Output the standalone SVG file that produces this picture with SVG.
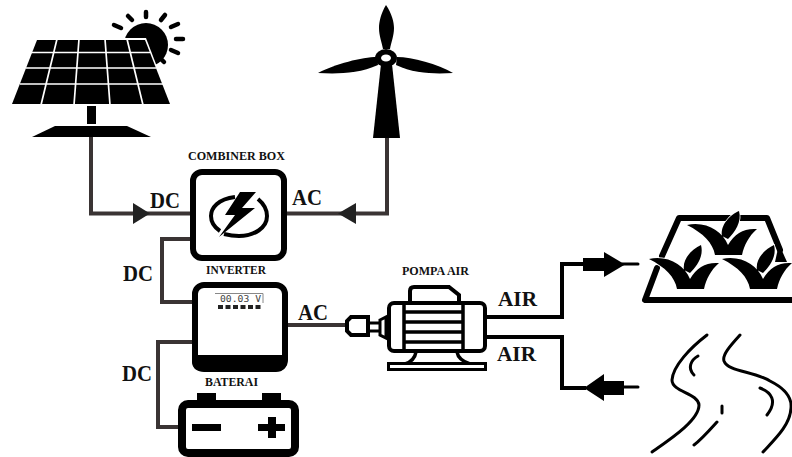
<svg xmlns="http://www.w3.org/2000/svg" width="792" height="457" viewBox="0 0 792 457">
<style>
.t{font-family:"Liberation Serif",serif;font-weight:bold;fill:#111}
.s{font-size:12px}.b{font-size:23px}
.w{stroke:#3a3434;stroke-width:4;fill:none;stroke-linejoin:miter}
.k{stroke:#000;fill:none}
.wl{stroke:#fff;fill:none;stroke-width:1.700}
</style>
<defs>
<path id="plant" d="M649 259C668 255 684 265 690 279C697 267 706 262 719 263C711 270 706 279 704 289H677C675 277 665 267 649 259ZM701 245C704 256 697 266 690 273L684 270C682 259 692 249 701 245Z" fill="#000" stroke="#fff" stroke-width="1.500" paint-order="stroke"/>
</defs>
<rect width="792" height="457" fill="#fff"/>
<g id="connectors">
<path class="w" d="M91 136V213.500H190"/>
<path d="M133 203L150 213.500L133 224Z" fill="#222"/>
<path class="w" d="M387 136V213.500H287"/>
<path d="M356 203L338 213.500L356 224Z" fill="#222"/>
<path class="w" d="M190 239H162V302H192"/>
<path class="w" d="M192 342H158V427H178"/>
<path class="w" d="M287 325H346"/>
<path class="k" stroke-width="4" d="M487 317H562V264H585"/>
<path class="k" stroke-width="4" d="M487 337H562V388H586"/>
<path d="M583 258H604V252L625 264.500L604 277V271H583Z" fill="#000"/>
<path class="k" stroke-width="3" stroke-linecap="round" d="M622 264H638"/>
<path d="M584 388L604 374V381H624V395H604V401Z" fill="#000"/>
<path class="k" stroke-width="3" stroke-linecap="round" d="M622 387H638"/>
</g>
<g id="solar">
<circle cx="146" cy="45" r="22" fill="#000"/>
<g stroke="#000" stroke-width="4.500" stroke-linecap="round"><path d="M146 12V17M128 16L132 20M114 25L121 28M165 15L161 20M178 24L171 27M176 39H183M171 50L178 53M160 58L164 62"/></g>
<path d="M35 38H146L172 106H10Z" fill="#fff"/>
<path d="M37 40H145L170 104H12Z" fill="#000"/>
<path class="wl" d="M31 52.500H150M26 68H156M20 84H163M57 39L41 105M79 39L74 105M105 39L110 105M127 39L143 105"/>
<rect x="87" y="106" width="9" height="18" fill="#000"/>
<path d="M55 126H127L151 137H32Z" fill="#000"/>
</g>
<g id="wind">
<path d="M386 5C392 14 394 22 394 28C394 36 391 43 390 49H383C382 43 379 36 379 28C379 22 381 13 386 5Z" fill="#000"/>
<path d="M377 57C362 57 335 64 318 73C336 74 358 74 378 65Z" fill="#000"/>
<path d="M397 57C412 57 438 64 453 73C436 74 415 74 396 65Z" fill="#000"/>
<ellipse cx="386" cy="58" rx="11" ry="9" fill="#000"/>
<ellipse cx="386" cy="58" rx="5" ry="3.500" fill="#fff"/>
<path d="M381 64H392L400 138H373Z" fill="#000"/>
</g>
<g id="combiner">
<rect x="193" y="172" width="91" height="86" rx="9" fill="#fff" stroke="#000" stroke-width="6"/>
<path class="k" stroke-width="4" d="M235 197C218 199 211 208 211 216C211 222 214 227 220 231M258 199C264 204 267 210 267 216C267 228 254 236 239 236C233 236 228 235 224 234"/>
<path d="M240 192H256L242 208H255L219 237L235 215H225Z" fill="#000"/>
<text class="t s" x="188" y="160" textLength="97" lengthAdjust="spacingAndGlyphs">COMBINER BOX</text>
</g>
<g id="inverter">
<rect x="195" y="285" width="90" height="84" rx="9" fill="#fff" stroke="#000" stroke-width="6"/>
<path d="M192 355H287V362C287 367 283 371 279 371H200C196 371 192 367 192 362Z" fill="#000"/>
<path d="M215 293.500H263V303" fill="none" stroke="#888" stroke-width="1"/>
<text x="220" y="302" font-family="DejaVu Sans Mono,monospace" font-size="9" fill="#444" textLength="41" lengthAdjust="spacingAndGlyphs">00.03 V</text>
<path stroke="#222" stroke-width="4" stroke-dasharray="5 2.500" d="M218 307H261" fill="none"/>
<text class="t s" x="206" y="274" textLength="60" lengthAdjust="spacingAndGlyphs">INVERTER</text>
</g>
<g id="battery">
<rect x="197" y="393" width="19" height="9" fill="#000"/>
<rect x="262" y="393" width="19" height="9" fill="#000"/>
<rect x="182" y="404" width="113" height="49" rx="6" fill="#fff" stroke="#000" stroke-width="8"/>
<rect x="192" y="424" width="29" height="7" fill="#000"/>
<path d="M268 417H276V424H285V431H276V438H268V431H258V424H268Z" fill="#000"/>
<text class="t s" x="205" y="386" textLength="53" lengthAdjust="spacingAndGlyphs">BATERAI</text>
</g>
<g id="pump">
<path class="k" stroke-width="4" fill="#fff" d="M351 317H368V335H351L347 331V321Z"/>
<path class="k" stroke-width="3" d="M370 323H380M370 331H380M380 320L386 317V338L380 335Z"/>
<path class="k" stroke-width="4" d="M410 302V291Q410 287 414 287H449L459 295V302"/>
<rect x="389" y="303" width="96" height="48" rx="5" fill="#fff" stroke="#000" stroke-width="4"/>
<path class="k" stroke-width="3.500" d="M404 303V351M463 303V351M404 312H463M404 322H463M404 332H463M404 342H463"/>
<path class="k" stroke-width="3.500" d="M416 352C415 358 411 362 405 364M457 352C458 358 464 362 470 364"/>
<rect x="388.500" y="363.500" width="97" height="6" fill="#fff" stroke="#000" stroke-width="3"/>
<text class="t s" x="402" y="275" textLength="67" lengthAdjust="spacingAndGlyphs">POMPA AIR</text>
</g>
<g id="field">
<path class="k" stroke-width="6" stroke-linejoin="round" stroke-linecap="round" d="M662 256L679 218H767L780 250M657 268L645 300H792"/>
<path d="M779 244L787 262H775Z" fill="#000"/>
<use href="#plant" transform="translate(38 -34)"/>
<use href="#plant"/>
<use href="#plant" transform="translate(73 0)"/>
</g>
<g id="river">
<path class="k" stroke-width="3" stroke-linecap="round" d="M707 335C690 348 673 366 672 380C672 392 698 393 699 405C699 420 672 438 652 452"/>
<path class="k" stroke-width="3" stroke-linecap="round" d="M698 356C691 360 687 368 694 375"/>
<path class="k" stroke-width="3" stroke-linecap="round" d="M740 335C730 346 722 355 724 361C728 372 754 371 770 381C786 389 792 398 791 408C790 425 776 438 763 452"/>
<path class="k" stroke-width="3" stroke-linecap="round" d="M760 388C771 392 778 401 767 415M722 406V413M717 422C708 432 701 440 694 445"/>
</g>
<g id="labels">
<text class="t b" x="150" y="208" textLength="30" lengthAdjust="spacingAndGlyphs">DC</text>
<text class="t b" x="292" y="205" textLength="30" lengthAdjust="spacingAndGlyphs">AC</text>
<text class="t b" x="123" y="281" textLength="30" lengthAdjust="spacingAndGlyphs">DC</text>
<text class="t b" x="298" y="320" textLength="30" lengthAdjust="spacingAndGlyphs">AC</text>
<text class="t b" x="122" y="381" textLength="30" lengthAdjust="spacingAndGlyphs">DC</text>
<text class="t" font-size="21" x="498" y="306" textLength="39" lengthAdjust="spacingAndGlyphs">AIR</text>
<text class="t" font-size="21" x="497" y="361" textLength="39" lengthAdjust="spacingAndGlyphs">AIR</text>
</g>
</svg>
